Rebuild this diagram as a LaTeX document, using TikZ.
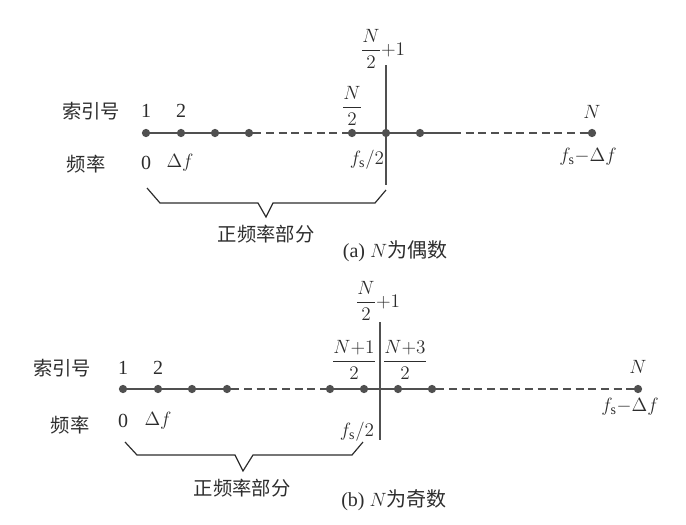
\documentclass[tikz,border=0pt]{standalone}
\usepackage{amsmath}
\usepackage{fontspec}
\setmainfont{Liberation Serif}
\newfontfamily\cjk{Noto Sans CJK SC}
\usetikzlibrary{positioning}
\definecolor{ink}{RGB}{45,45,45}
\definecolor{dotc}{RGB}{80,80,80}
\tikzset{
  dot/.style={circle, fill=dotc, inner sep=0pt, minimum size=6.2pt},
  axis/.style={draw=dotc, line width=1.5pt},
  gap/.style={dash pattern=on 6pt off 3.5pt},
  brace/.style={draw=ink, line width=0.9pt},
  lab/.style={text=ink, inner sep=1pt},
  zh/.style={text=ink, inner sep=1pt, font=\fontsize{14.5}{16}\selectfont\cjk},
}

\begin{document}
\begin{tikzpicture}[x=0.75pt, y=-0.75pt, every node/.append style={font=\fontsize{15}{17}\selectfont}]
  \useasboundingbox (0,0) rectangle (686,525);
  % (a) N even
  \foreach \n/\x in {a1/146, a2/181, a3/215, a4/249, a5/352, a6/386, a7/420, a8/592}
    \node[dot] (\n) at (\x,133) {};
  \coordinate (a9) at (453,133);
  \coordinate (va top) at (386,65); \coordinate (va bot) at (386,185);
  \draw[axis] (a1) -- (a2) -- (a3) -- (a4); \draw[axis, gap] (a4) -- (a5);
  \draw[axis] (a5) -- (a6) -- (a7) -- (a9); \draw[axis, gap] (a9) -- (a8);
  \draw[axis] (va top) -- (va bot);
  \node[zh] (idx a) at (91,111) {索引号};
  \node[zh] (frq a) at (86,164) {频率};
  \node[lab] (i1 a) at (146,111) {1};
  \node[lab] (i2 a) at (181,111) {2};
  \node[lab] (f0 a) at (146,163) {0};
  \node[lab] (f1 a) at (180,163) {$\Delta f$};
  \node[lab] (half a) at (352,106) {$\dfrac{N}{2}$};
  \node[lab] (next a) at (383,49) {$\dfrac{N}{2}{+}1$};
  \node[lab] (fh a) at (367,160) {$f_{\mathrm{s}}/2$};
  \node[lab] (iN a) at (592,112) {$N$};
  \node[lab] (fN a) at (588,157) {$f_{\mathrm{s}}{-}\Delta f$};
  \draw[brace] (147,188) -- (160,203) -- (258,203) -- (266,217) -- (273,203) -- (375,203) -- (386,190);
  \node[zh] (pos a) at (266,234) {正频率部分};
  \node[lab] (cap a) at (395,251) {(a) $N$\cjk 为偶数};
  % (b) N odd
  \foreach \n/\x in {b1/123, b2/158, b3/192, b4/227, b5/330, b6/364, b7/398, b8/432, b9/638}
    \node[dot] (\n) at (\x,389) {};
  \coordinate (vb top) at (380,322); \coordinate (vb bot) at (380,440);
  \draw[axis] (b1) -- (b2) -- (b3) -- (b4); \draw[axis, gap] (b4) -- (b5);
  \draw[axis] (b5) -- (b6) -- (b7) -- (b8); \draw[axis, gap] (b8) -- (b9);
  \draw[axis] (vb top) -- (vb bot);
  \node[zh] (idx b) at (62,368) {索引号};
  \node[zh] (frq b) at (70,425) {频率};
  \node[lab] (i1 b) at (123,368) {1};
  \node[lab] (i2 b) at (158,368) {2};
  \node[lab] (f0 b) at (123,421) {0};
  \node[lab] (f1 b) at (158,421) {$\Delta f$};
  \node[lab] (next b) at (378,301) {$\dfrac{N}{2}{+}1$};
  \node[lab] (lo b) at (354,360) {$\dfrac{N{+}1}{2}$};
  \node[lab] (hi b) at (405,360) {$\dfrac{N{+}3}{2}$};
  \node[lab] (fh b) at (357,432) {$f_{\mathrm{s}}/2$};
  \node[lab] (iN b) at (638,367) {$N$};
  \node[lab] (fN b) at (630,407) {$f_{\mathrm{s}}{-}\Delta f$};
  \draw[brace] (125,442) -- (137,455) -- (235,455) -- (243,471) -- (253,455) -- (352,455) -- (363,442);
  \node[zh] (pos b) at (242,488) {正频率部分};
  \node[lab] (cap b) at (394,500) {(b) $N$\cjk 为奇数};
\end{tikzpicture}
\end{document}
